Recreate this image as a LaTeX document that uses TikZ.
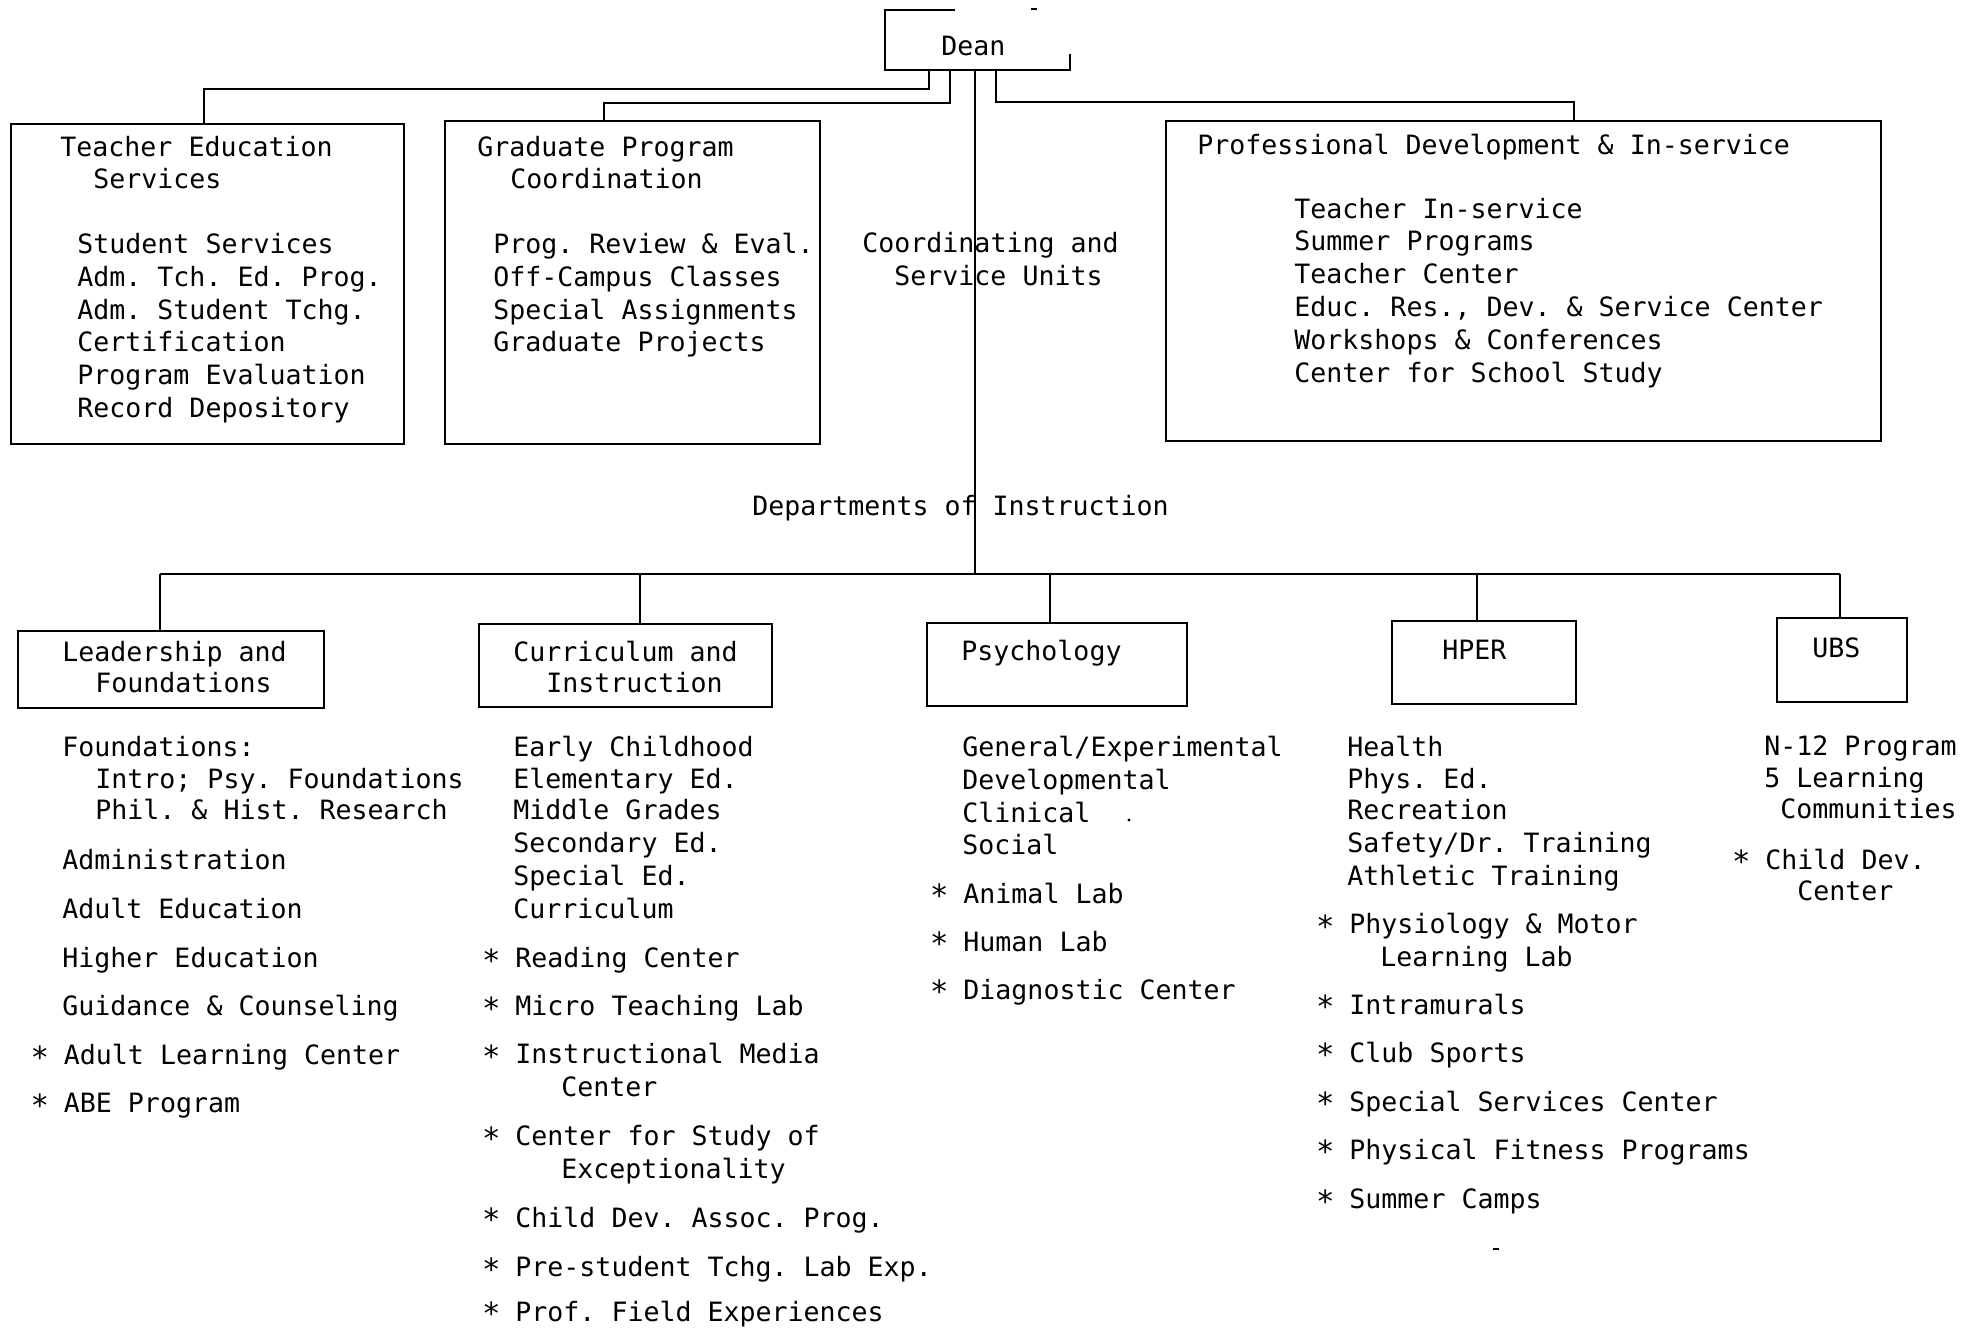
\documentclass[tikz,border=0pt]{standalone}
\usepackage{fontspec}
\newfontfamily\typew{DejaVu Sans Mono}
\usetikzlibrary{fit}
\newcommand\st{\makebox[0.602em][c]{\raisebox{-1.8pt}{\scalebox{1.15}{*}}}}
\begin{document}
\frenchspacing
\begin{tikzpicture}[x=0.5pt,y=-0.5pt,
  ln/.style={line width=1.2pt},
  txt/.style={anchor=base west, inner sep=0pt, font=\typew\fontsize{13.3}{16.4}\selectfont\frenchspacing},
  bx/.style={draw, line width=1.2pt, inner sep=0pt}]
\useasboundingbox (0,0) rectangle (1978,1329);

% boxes
\node[bx, fit={(11,124) (404,444)}] (tes) {};
\node[bx, fit={(445,121) (820,444)}] (gpc) {};
\node[bx, fit={(1166,121) (1881,441)}] (pd) {};
\node[bx, fit={(18,631) (324,708)}] (lf) {};
\node[bx, fit={(479,624) (772,707)}] (ci) {};
\node[bx, fit={(927,623) (1187,706)}] (psy) {};
\node[bx, fit={(1392,621) (1576,704)}] (hper) {};
\node[bx, fit={(1777,618) (1907,702)}] (ubs) {};

% Dean
\node[txt] (dean) at (941,55) {Dean};
\draw[ln] (955,10) -- (885,10) -- (885,70) -- (1070,70) -- (1070,54);
\draw[ln] (1031,9) -- (1037,9);

% connectors from Dean
\coordinate (d1) at (929,70);
\coordinate (d2) at (950,70);
\coordinate (dc) at (975,70);
\coordinate (d3) at (996,70);
\coordinate (j1) at (204,89);
\coordinate (j2) at (604,103);
\coordinate (j3) at (1574,102);
\draw[ln] (d1) |- (j1) -- (j1 |- tes.north);
\draw[ln] (d2) |- (j2) -- (j2 |- gpc.north);
\draw[ln] (d3) |- (j3) -- (j3 |- pd.north);

% trunk and bus
\coordinate (bus) at (975,574);
\coordinate (bl) at (160,574);
\coordinate (b2) at (640,574);
\coordinate (b3) at (1050,574);
\coordinate (b4) at (1477,574);
\coordinate (br) at (1840,574);
\draw[ln] (dc) -- (bus);
\draw[ln] (bl) -- (br);
\draw[ln] (bl) -- (bl |- lf.north);
\draw[ln] (b2) -- (b2 |- ci.north);
\draw[ln] (b3) -- (b3 |- psy.north);
\draw[ln] (b4) -- (b4 |- hper.north);
\draw[ln] (br) -- (br |- ubs.north);

% top box texts
\foreach \x/\y/\t [count=\i] in {
  60/156/{Teacher Education}, 93/188/{Services},
  77/253.5/{Student Services}, 77/286.3/{Adm. Tch. Ed. Prog.},
  77/319.1/{Adm. Student Tchg.}, 77/351.9/{Certification},
  77/384.7/{Program Evaluation}, 77/417.5/{Record Depository}}
  \node[txt] (tes\i) at (\x,\y) {\t};

\foreach \x/\y/\t [count=\i] in {
  477/156/{Graduate Program}, 510/188/{Coordination},
  493/253.5/{Prog. Review \& Eval.}, 493/286.3/{Off-Campus Classes},
  493/319.1/{Special Assignments}, 493/351.9/{Graduate Projects}}
  \node[txt] (gpc\i) at (\x,\y) {\t};

\node[txt] (cs1) at (862,252) {Coordinating and};
\node[txt] (cs2) at (894,285) {Service Units};

\foreach \x/\y/\t [count=\i] in {
  1197/154/{Professional Development \& In-service},
  1294/218/{Teacher In-service}, 1294/250.8/{Summer Programs},
  1294/283.6/{Teacher Center}, 1294/316.4/{Educ. Res., Dev. \& Service Center},
  1294/349.2/{Workshops \& Conferences}, 1294/382/{Center for School Study}}
  \node[txt] (pd\i) at (\x,\y) {\t};

\node[txt] (doi) at (752,515) {Departments of Instruction};

% department labels
\node[txt] (lfa) at (62,661) {Leadership and};
\node[txt] (lfb) at (95,692.5) {Foundations};
\node[txt] (cia) at (513,661) {Curriculum and};
\node[txt] (cib) at (546,692.5) {Instruction};
\node[txt] (psya) at (961,660) {Psychology};
\node[txt] (hpera) at (1442,659) {HPER};
\node[txt] (ubsa) at (1812,657) {UBS};

% lists
\foreach \x/\y/\t [count=\i] in {
  62/756.8/{Foundations:}, 95/788.3/{Intro; Psy. Foundations},
  95/819.9/{Phil. \& Hist. Research}, 62/869/{Administration},
  62/918.3/{Adult Education}, 62/967.5/{Higher Education},
  62/1015.4/{Guidance \& Counseling}, 31.5/1064.6/{\st\ Adult Learning Center},
  31.5/1112.5/{\st\ ABE Program}}
  \node[txt] (lfl\i) at (\x,\y) {\t};

\foreach \x/\y/\t [count=\i] in {
  513/756.8/{Early Childhood}, 513/788.3/{Elementary Ed.},
  513/819.9/{Middle Grades}, 513/852.7/{Secondary Ed.},
  513/885.5/{Special Ed.}, 513/918.3/{Curriculum},
  483/967.5/{\st\ Reading Center}, 483/1015.4/{\st\ Micro Teaching Lab},
  483/1063.4/{\st\ Instructional Media}, 561/1096.2/{Center},
  483/1145.4/{\st\ Center for Study of}, 561/1178.1/{Exceptionality},
  483/1227.3/{\st\ Child Dev. Assoc. Prog.},
  483/1276.5/{\st\ Pre-student Tchg. Lab Exp.},
  483/1321/{\st\ Prof. Field Experiences}}
  \node[txt] (cil\i) at (\x,\y) {\t};

\foreach \x/\y/\t [count=\i] in {
  962/756.8/{General/Experimental}, 962/789.6/{Developmental},
  962/822.4/{Clinical}, 962/854/{Social},
  931/903/{\st\ Animal Lab}, 931/951/{\st\ Human Lab},
  931/999/{\st\ Diagnostic Center}}
  \node[txt] (psyl\i) at (\x,\y) {\t};
\fill (1129,820) circle (1.6);

\foreach \x/\y/\t [count=\i] in {
  1347/756.8/{Health}, 1347/788.3/{Phys. Ed.},
  1347/819.9/{Recreation}, 1347/852.7/{Safety/Dr. Training},
  1347/885.5/{Athletic Training}, 1317/933.4/{\st\ Physiology \& Motor},
  1380/966.2/{Learning Lab}, 1317/1014.2/{\st\ Intramurals},
  1317/1062.1/{\st\ Club Sports}, 1317/1111.3/{\st\ Special Services Center},
  1317/1159.2/{\st\ Physical Fitness Programs}, 1317/1208.4/{\st\ Summer Camps}}
  \node[txt] (hperl\i) at (\x,\y) {\t};
\draw[ln] (1493,1249) -- (1499,1249);

\foreach \x/\y/\t [count=\i] in {
  1764/755.5/{N-12 Program}, 1764/787/{5 Learning},
  1780/818.6/{Communities}, 1733/869/{\st\ Child Dev.},
  1797/900.6/{Center}}
  \node[txt] (ubsl\i) at (\x,\y) {\t};
\end{tikzpicture}
\end{document}
